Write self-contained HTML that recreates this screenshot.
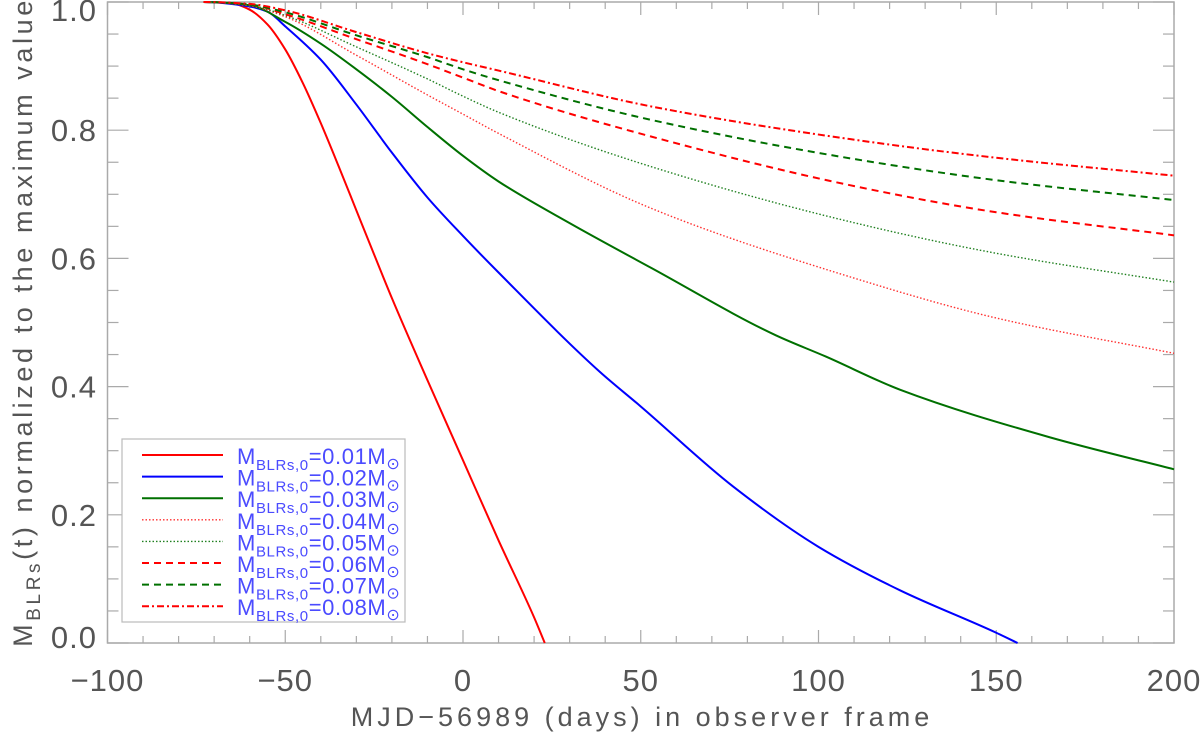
<!DOCTYPE html>
<html><head><meta charset="utf-8"><style>
body{margin:0;background:#fff;}
svg text{font-family:"Liberation Sans",sans-serif;}
</style></head><body>
<svg id="chart" width="1200" height="732" xmlns="http://www.w3.org/2000/svg">
<g id="axes"></g><g id="series"></g><g id="legend"></g>
</svg>
<script>
const xMin=-100,xMax=200,yMin=0,yMax=1;
const xTicks=[-100,-50,0,50,100,150,200];
const xTickLabels=["\u2212100","\u221250","0","50","100","150","200"];
const yTicks=[0,0.2,0.4,0.6,0.8,1.0];
const yTickLabels=["0.0","0.2","0.4","0.6","0.8","1.0"];
const legendLabels=["0.01","0.02","0.03","0.04","0.05","0.06","0.07","0.08"];
const xRed=[-73,-65,-60,-55,-50,-45,-40,-35,-30,-25,-20,-10,0,10,20,23];
const vRed=[1,0.998,0.988,0.965,0.926,0.873,0.811,0.744,0.675,0.606,0.538,0.41,0.285,0.16,0.04,0];
const xBlue=[-73,-60,-55,-50,-40,-30,-20,-10,0,10,38.5,50,76,100,123,150,156];
const vBlue=[1,0.993,0.985,0.962,0.91,0.84,0.765,0.695,0.635,0.578,0.423,0.369,0.244,0.15,0.082,0.016,0];
const xGreen=[-73,-60,-50,-40,-30,-20,-10,0,10,30,53,88,102,123,165,200];
const vGreen=[1,0.995,0.969,0.935,0.895,0.852,0.805,0.76,0.72,0.655,0.585,0.48,0.447,0.395,0.321,0.271];
const xOther=[-73,-60,-50,-30,-10,0,10,53,109,150,200];
const vRedDot=[1,0.994,0.977,0.917,0.855,0.825,0.795,0.678,0.571,0.507,0.452];
const vGreenDot=[1,0.995,0.979,0.93,0.88,0.853,0.828,0.743,0.657,0.608,0.563];
const vRedDash=[1,0.996,0.981,0.942,0.903,0.882,0.861,0.79,0.714,0.672,0.636];
const vGreenDash=[1,0.996,0.984,0.948,0.914,0.895,0.878,0.816,0.756,0.722,0.691];
const vRedDashDot=[1,0.997,0.987,0.953,0.92,0.906,0.893,0.837,0.786,0.757,0.729];

const L=107.5,R=1174,T=2,B=643;
const sx=x=>L+(x-xMin)/(xMax-xMin)*(R-L);
const sy=v=>B-(v-yMin)/(yMax-yMin)*(B-T);
const NS="http://www.w3.org/2000/svg";
function mk(tag,attrs,parent){const e=document.createElementNS(NS,tag);for(const k in attrs)e.setAttribute(k,attrs[k]);parent.appendChild(e);return e;}
const axes=document.getElementById('axes');
const frame=mk('rect',{x:L,y:T,width:R-L,height:B-T,fill:'none',stroke:'#aaa','stroke-width':1.5},axes);


for(let x=xMin;x<=xMax;x+=10){
  const major=x%50===0,len=major?13:7;
  const t1=mk('line',{x1:sx(x),x2:sx(x),y1:B,y2:B-len,stroke:'#aaa','stroke-width':1.2},axes);
  
  
  const t2=mk('line',{x1:sx(x),x2:sx(x),y1:T,y2:T+len,stroke:'#aaa','stroke-width':1.2},axes);
  
  
}
for(let i=0;i<=20;i++){
  const v=i*0.05,major=i%4===0,len=major?21:11;
  const t1=mk('line',{x1:L,x2:L+len,y1:sy(v),y2:sy(v),stroke:'#aaa','stroke-width':1.2},axes);
  
  
  const t2=mk('line',{x1:R,x2:R-len,y1:sy(v),y2:sy(v),stroke:'#aaa','stroke-width':1.2},axes);
  
  
}
xTicks.forEach((x,i)=>{
  const t=mk('text',{x:sx(x),y:691,'text-anchor':'middle','font-size':31,fill:'#555','letter-spacing':'1'},axes);
  t.textContent=xTickLabels[i];
  
  
});
yTicks.forEach((v,i)=>{
  const t=mk('text',{x:97,y:sy(v)+11+(i===5?8:0)-(i===0?6:0),'text-anchor':'end','font-size':31,fill:'#555','letter-spacing':'1'},axes);
  t.textContent=yTickLabels[i];
  
  
});
const xt=mk('text',{x:642,y:726,'text-anchor':'middle','font-size':27,fill:'#555','letter-spacing':'4'},axes);
xt.textContent='MJD\u221256989 (days) in observer frame';


const yt=mk('text',{transform:'translate(32,322) rotate(-90)','text-anchor':'middle','font-size':27,fill:'#555','letter-spacing':'3.6'},axes);
yt.innerHTML='M<tspan font-size="19" dy="8">BLRs</tspan><tspan dy="-8">(t) normalized to the maximum value</tspan>';



function pathFor(xs,vs){
  const n=xs.length,px=xs.map(sx),py=vs.map(sy);
  const d=[],m=new Array(n);
  for(let i=0;i<n-1;i++)d.push((py[i+1]-py[i])/(px[i+1]-px[i]));
  m[n-1]=d[n-2];
  for(let i=1;i<n-1;i++){
    if(d[i-1]*d[i]<=0)m[i]=0;
    else{const w1=2*(px[i+1]-px[i])+(px[i]-px[i-1]),w2=(px[i+1]-px[i])+2*(px[i]-px[i-1]);m[i]=(w1+w2)/(w1/d[i-1]+w2/d[i]);}
  }
  m[0]=0;
  let s=`M${px[0]},${py[0]}`;
  for(let i=0;i<n-1;i++){
    const h=(px[i+1]-px[i])/3;
    s+=`C${px[i]+h},${py[i]+m[i]*h} ${px[i+1]-h},${py[i+1]-m[i+1]*h} ${px[i+1]},${py[i+1]}`;
  }
  return s;
}
const styles=[
 {xs:xRed,vs:vRed,c:'#ff0000',dash:'',w:2,name:'line-0p01'},
 {xs:xBlue,vs:vBlue,c:'#0000ff',dash:'',w:2,name:'line-0p02'},
 {xs:xGreen,vs:vGreen,c:'#007000',dash:'',w:2,name:'line-0p03'},
 {xs:xOther,vs:vRedDot,c:'#ff3030',dash:'1.5,2',w:1.4,name:'line-0p04'},
 {xs:xOther,vs:vGreenDot,c:'#208020',dash:'1.5,2',w:1.4,name:'line-0p05'},
 {xs:xOther,vs:vRedDash,c:'#ff0000',dash:'7,5',w:2,name:'line-0p06'},
 {xs:xOther,vs:vGreenDash,c:'#007000',dash:'7,5',w:2,name:'line-0p07'},
 {xs:xOther,vs:vRedDashDot,c:'#ff0000',dash:'7,3,2,3',w:2,name:'line-0p08'}
];
const sg=document.getElementById('series');
styles.forEach(s=>{
  const p=mk('path',{d:pathFor(s.xs,s.vs),fill:'none',stroke:s.c,'stroke-width':s.w,'stroke-dasharray':s.dash},sg);
  
  
});
const lg=document.getElementById('legend');
const box=mk('rect',{x:122,y:439,width:283,height:183,fill:'#fff',stroke:'#bbb','stroke-width':1.2},lg);


styles.forEach((s,i)=>{
  const y=455+i*21.6;
  const l=mk('line',{x1:142,x2:223,y1:y,y2:y,stroke:s.c,'stroke-width':s.w,'stroke-dasharray':s.dash},lg);
  
  
  const t=mk('text',{x:237,y:y+9,'font-size':22,fill:'#4b4bff','letter-spacing':'0.6'},lg);
  t.innerHTML=`M<tspan font-size="15" dy="6">BLRs,0</tspan><tspan dy="-6">=${legendLabels[i]}M</tspan><tspan font-size="16" dy="5">\u2299</tspan>`;
  
  
});
</script>
</body></html>
